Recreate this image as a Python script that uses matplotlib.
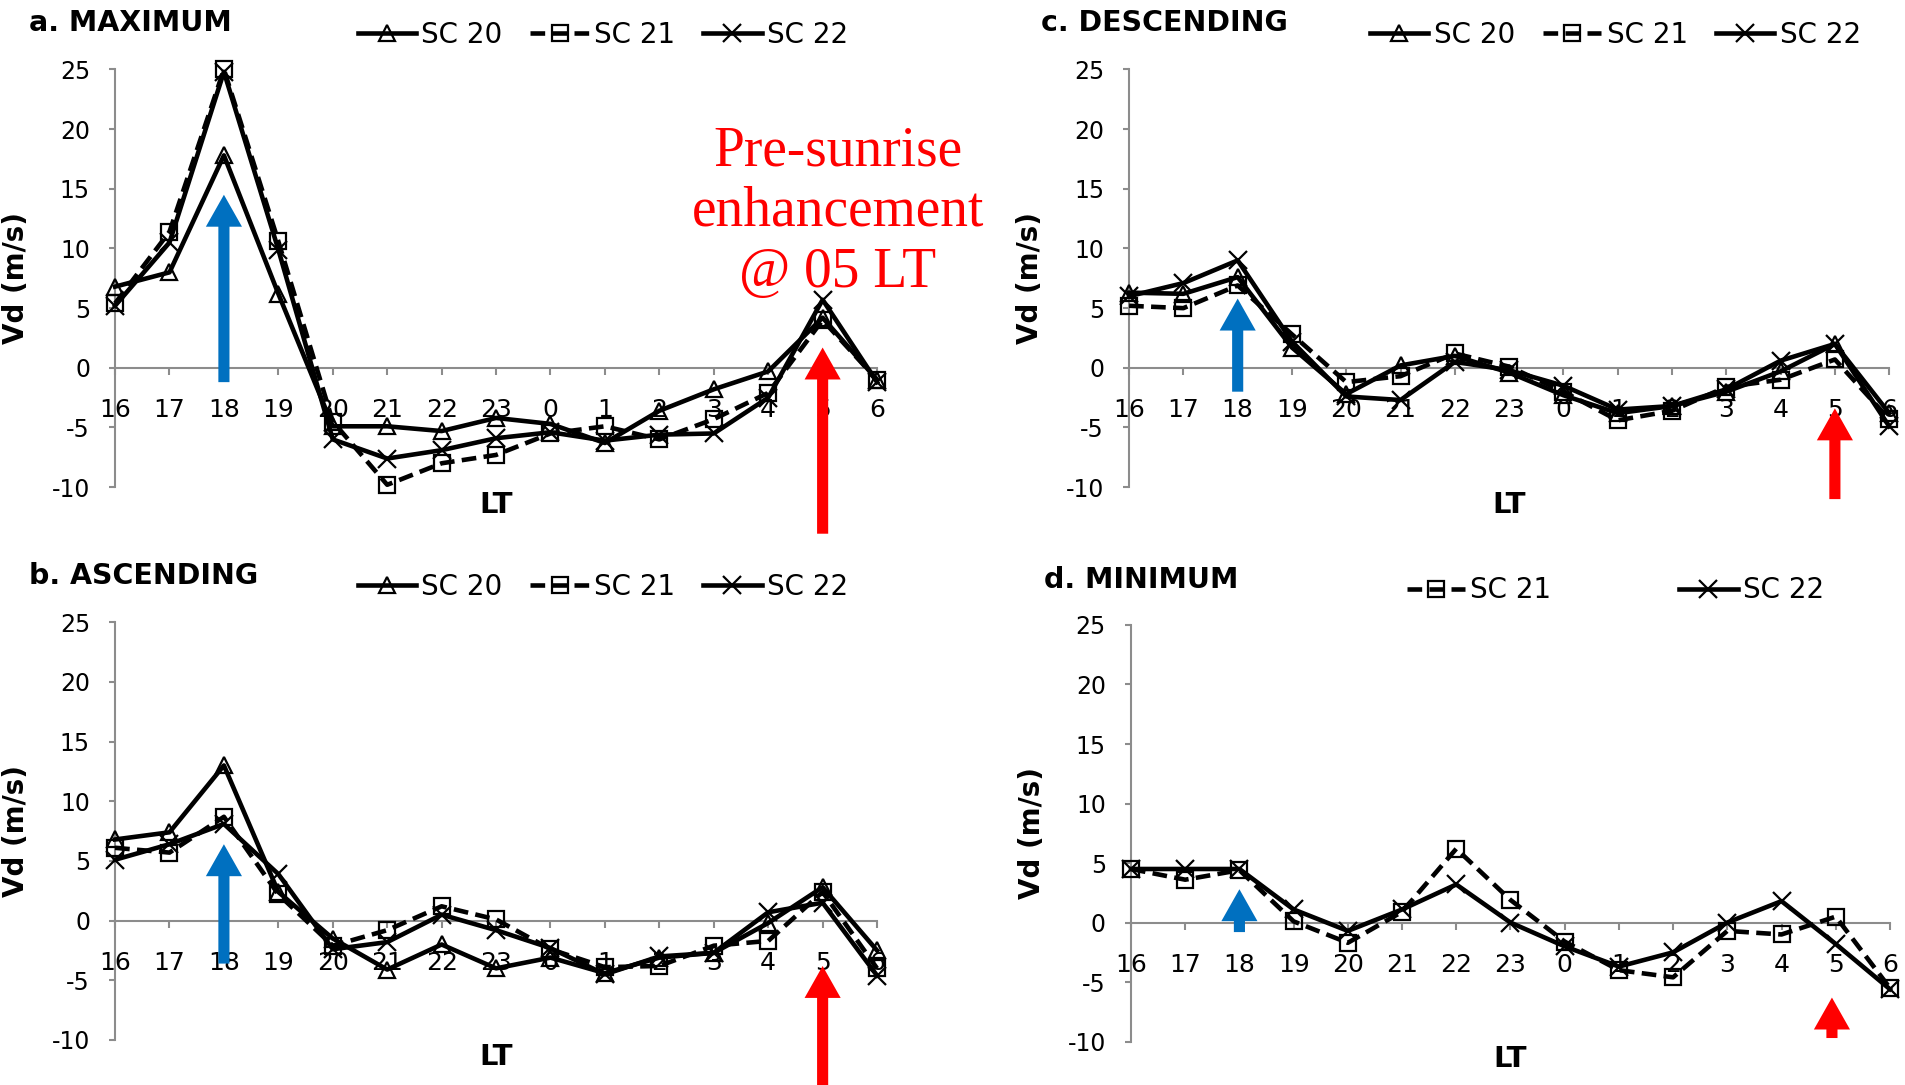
import numpy as np
import matplotlib
matplotlib.use('Agg')
import matplotlib.pyplot as plt

plt.rcParams['axes.unicode_minus'] = False

# local time categories (x axis)
lt_labels = ['16', '17', '18', '19', '20', '21', '22', '23', '0', '1', '2', '3', '4', '5', '6']

# a. MAXIMUM
max_sc20 = [6.8, 8.0, 17.8, 6.2, -4.9, -4.9, -5.3, -4.2, -4.7, -6.3, -3.6, -1.8, -0.3, 4.2, -1.0]
max_sc21 = [5.4, 11.4, 25.0, 10.6, -4.5, -9.8, -8.0, -7.3, -5.5, -4.9, -6.0, -4.3, -2.1, 4.0, -1.0]
max_sc22 = [5.2, 10.5, 24.8, 9.9, -6.0, -7.6, -6.9, -5.9, -5.4, -6.1, -5.6, -5.5, -2.5, 5.7, -1.2]

# b. ASCENDING
asc_sc20 = [6.8, 7.4, 13.0, 2.4, -1.5, -4.1, -2.0, -4.0, -3.1, -4.4, -3.1, -2.7, -0.2, 2.8, -2.5]
asc_sc21 = [6.1, 5.7, 8.7, 2.2, -2.1, -0.8, 1.2, 0.1, -2.4, -3.9, -3.8, -2.1, -1.7, 2.4, -4.0]
asc_sc22 = [5.1, 6.4, 8.1, 3.9, -2.4, -1.8, 0.5, -0.8, -2.3, -4.5, -3.0, -2.7, 0.7, 1.5, -4.6]

# c. DESCENDING
desc_sc20 = [6.3, 6.2, 7.6, 1.7, -2.2, 0.2, 1.0, -0.4, -2.3, -3.8, -3.2, -2.0, -0.3, 2.0, -3.8]
desc_sc21 = [5.2, 5.0, 6.9, 2.8, -1.2, -0.7, 1.2, 0.1, -2.0, -4.4, -3.6, -1.6, -1.0, 0.7, -4.3]
desc_sc22 = [6.0, 7.1, 9.0, 2.2, -2.4, -2.7, 0.5, -0.2, -1.5, -3.5, -3.2, -1.8, 0.6, 2.0, -4.9]

# d. MINIMUM
min_sc21 = [4.5, 3.6, 4.4, 0.1, -1.7, 0.9, 6.2, 1.9, -1.6, -4.0, -4.6, -0.7, -1.0, 0.5, -5.5]
min_sc22 = [4.5, 4.5, 4.5, 1.1, -0.7, 1.1, 3.2, 0.0, -2.0, -3.7, -2.5, 0.0, 1.8, -1.8, -5.6]

styles = {
    'SC 20': dict(ls='-', marker='^', ms=12),
    'SC 21': dict(ls=(0, (3.2, 1.6)), marker='s', ms=11),
    'SC 22': dict(ls='-', marker='x', ms=13),
}

BLUE = '#0070C0'
RED = '#FF0000'
GRAY = '#8C8C8C'

fig = plt.figure(figsize=(19.05, 10.85), dpi=100)


def arrow(ax, x, y0, y1, color):
    ax.annotate('', xy=(x, y1), xytext=(x, y0), annotation_clip=False,
                arrowprops=dict(width=8, headwidth=26, headlength=23, shrink=0,
                                color=color, lw=0, clip_on=False), zorder=5)


def panel(rect, series, title, title_xy, legend_xy, colspace, blue, red):
    ax = fig.add_axes(rect)
    x = np.arange(len(lt_labels))
    handles = []
    for name, vals in series:
        st = styles[name]
        h, = ax.plot(x, vals, color='black', lw=3.3, ls=st['ls'], marker=st['marker'],
                     ms=st['ms'], mfc='none', mec='black', mew=1.6, label=name,
                     clip_on=False, zorder=3)
        handles.append(h)
    ax.set_xlim(0, len(lt_labels) - 1)
    ax.set_ylim(-10, 25)
    ax.set_yticks([-10, -5, 0, 5, 10, 15, 20, 25])
    ax.set_xticks(x)
    ax.set_xticklabels(lt_labels)
    ax.spines['top'].set_visible(False)
    ax.spines['right'].set_visible(False)
    ax.spines['bottom'].set_position(('data', 0))
    for s in ('left', 'bottom'):
        ax.spines[s].set_color(GRAY)
        ax.spines[s].set_linewidth(1.5)
    ax.tick_params(axis='x', direction='out', length=5, width=1.5, color=GRAY,
                   pad=17, labelsize=18)
    ax.tick_params(axis='y', direction='out', length=4, width=1.5, color=GRAY,
                   pad=14, labelsize=17)
    ax.set_ylabel('Vd (m/s)', fontsize=20, fontweight='bold')
    ax.yaxis.set_label_coords(-0.112, 0.5)
    ax.set_xlabel('LT', fontsize=21, fontweight='bold')
    ax.xaxis.set_label_coords(0.5, -0.008)
    fig.text(title_xy[0], title_xy[1], title, fontsize=20.5, fontweight='bold',
             ha='left', va='center')
    ax.legend(handles=handles, loc='center', bbox_to_anchor=legend_xy,
              bbox_transform=fig.transFigure, ncol=len(handles), frameon=False,
              fontsize=20, handlelength=2.1, handletextpad=0.2,
              columnspacing=colspace, numpoints=1)
    arrow(ax, blue[0], blue[1], blue[2], BLUE)
    arrow(ax, red[0], red[1], red[2], RED)
    return ax


panel([0.0604, 0.551, 0.400, 0.385],
      [('SC 20', max_sc20), ('SC 21', max_sc21), ('SC 22', max_sc22)],
      'a. MAXIMUM', (0.0152, 0.979), (0.3165, 0.968), 1.0,
      (2, -1.2, 14.5), (13, -13.9, 1.7))

panel([0.5927, 0.551, 0.399, 0.385],
      [('SC 20', desc_sc20), ('SC 21', desc_sc21), ('SC 22', desc_sc22)],
      'c. DESCENDING', (0.5465, 0.979), (0.848, 0.968), 1.0,
      (2, -2.0, 5.8), (13, -11.0, -3.4))

panel([0.0604, 0.0415, 0.400, 0.385],
      [('SC 20', asc_sc20), ('SC 21', asc_sc21), ('SC 22', asc_sc22)],
      'b. ASCENDING', (0.0152, 0.469), (0.3165, 0.459), 1.0,
      (2, -3.6, 6.4), (13, -14.5, -3.8))

panel([0.5937, 0.040, 0.3984, 0.384],
      [('SC 21', min_sc21), ('SC 22', min_sc22)],
      'd. MINIMUM', (0.548, 0.465), (0.848, 0.456), 4.6,
      (2, -0.8, 2.8), (12.93, -9.7, -6.3))

fig.text(838 / 1905, 1 - 212 / 1085, 'Pre-sunrise\nenhancement\n@ 05 LT',
         ha='center', va='center', color=RED, fontsize=40,
         family='Liberation Serif', linespacing=1.22)

fig.savefig('out.png', dpi=100)
